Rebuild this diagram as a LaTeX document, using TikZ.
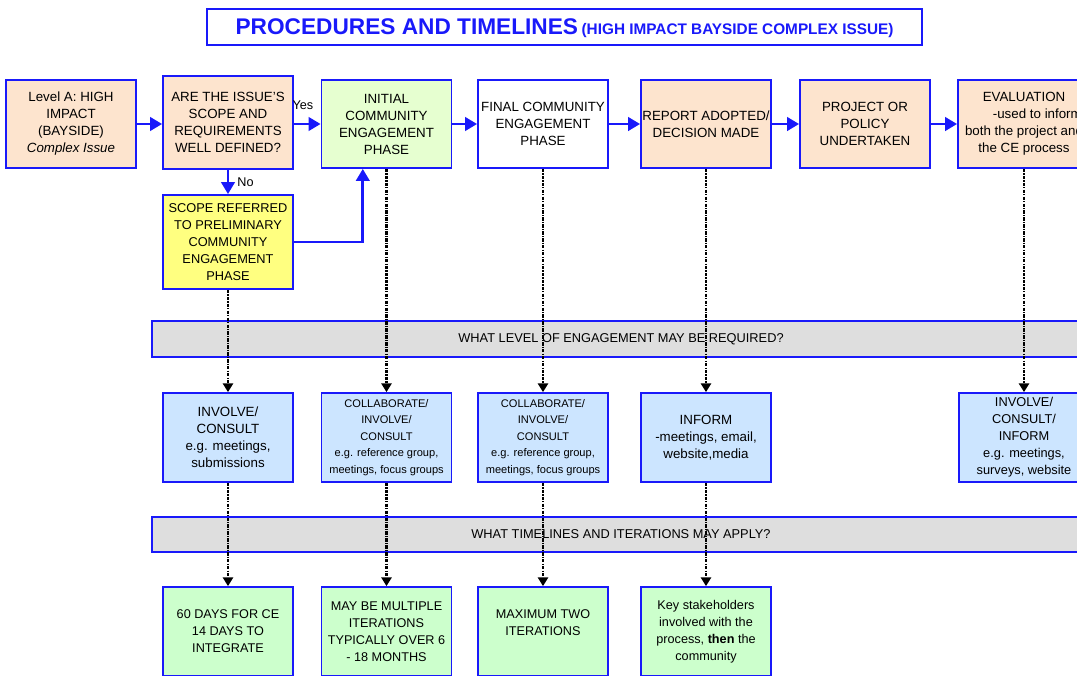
\documentclass[tikz,border=0pt]{standalone}
\usepackage{fontspec}
\setmainfont{Liberation Sans}
\usepackage{xcolor}
\usepackage{tikz}
\usetikzlibrary{arrows.meta,calc}
\definecolor{ceblue}{RGB}{25,25,250}
\definecolor{peach}{RGB}{253,228,206}
\definecolor{initgreen}{RGB}{230,255,208}
\definecolor{timegreen}{RGB}{204,255,204}
\definecolor{levelblue}{RGB}{204,229,255}
\definecolor{prelimyellow}{RGB}{255,255,128}
\definecolor{bannergrey}{RGB}{222,222,222}
\tikzset{
  stage/.style={rectangle, draw=ceblue, line width=1.3pt, fill=peach, minimum width=97.5pt, minimum height=66pt, inner sep=1pt, align=center, font=\fontsize{10}{12.75}\selectfont},
  level/.style={stage, fill=levelblue, minimum height=66.75pt},
  timing/.style={stage, fill=timegreen, minimum height=66.75pt, font=\fontsize{9.5}{12.75}\selectfont},
  banner/.style={rectangle, draw=ceblue, line width=1.3pt, fill=bannergrey, minimum width=703.5pt, minimum height=27pt, font=\fontsize{9.6}{11}\selectfont},
  flow/.style={-{Triangle[length=9pt,width=10pt]}, draw=ceblue, line width=2.2pt}, % main sequence of steps
  trace/.style={-{Triangle[length=6.5pt,width=7.5pt]}, draw=black, line width=1.6pt, dash pattern=on 2.5pt off 0.9pt on 0.9pt off 0.9pt} % step to its engagement / timeline
}

\begin{document}
\begin{tikzpicture}[x=0.75pt, y=-0.75pt, every node/.append style={font=\fontsize{9.5}{11}\selectfont}]
  \useasboundingbox (0,0) rectangle (1077,675);
  \clip (0,0) rectangle (1077,675);

  % heading
  \node[draw=ceblue, line width=1.3pt, minimum width=536.25pt, minimum height=27pt, inner sep=0pt, text depth=0pt, text=ceblue] (heading) at (564.5,27)
    {{\fontsize{17}{20}\selectfont\bfseries PROCEDURES AND TIMELINES} {\fontsize{11.5}{14}\selectfont\bfseries (HIGH IMPACT BAYSIDE COMPLEX ISSUE)}};

  % process steps
  \node[stage] (levela) at (71,124) {Level A: HIGH\\IMPACT\\(BAYSIDE)\\\textit{Complex Issue}};
  \node[stage, minimum height=69.75pt] (scopeq) at (228,122.5) {ARE THE ISSUE'S\\SCOPE AND\\REQUIREMENTS\\WELL DEFINED?};
  \node[stage, fill=initgreen] (initce) at (386.5,124) {INITIAL\\COMMUNITY\\ENGAGEMENT\\PHASE};
  \node[stage, fill=white] (finalce) at (543,124) {FINAL COMMUNITY\\ENGAGEMENT\\PHASE};
  \node[stage] (report) at (706,124) {REPORT ADOPTED/\\DECISION MADE};
  \node[stage] (project) at (865,124) {PROJECT OR\\POLICY\\UNDERTAKEN};
  \node[stage, minimum width=99pt] (evaluation) at (1024,124) {EVALUATION\\\hspace*{2em}-used to inform\\both the project and\\the CE process};
  \node[stage, fill=prelimyellow, minimum height=70.5pt, font=\fontsize{9.6}{12.75}\selectfont] (prelim) at (228,242) {SCOPE REFERRED\\TO PRELIMINARY\\COMMUNITY\\ENGAGEMENT\\PHASE};

  % question bars
  \node[banner] (engq) at (621,339) {WHAT LEVEL OF ENGAGEMENT MAY BE REQUIRED?};
  \node[banner, minimum height=26.25pt] (timeq) at (621,534.5) {WHAT TIMELINES AND ITERATIONS MAY APPLY?};

  % levels of engagement
  \node[level] (lvinvolve) at (228,437.5) {INVOLVE/\\CONSULT\\e.g. meetings,\\submissions};
  \node[level, font=\fontsize{8.3}{12.4}\selectfont] (lvinitial) at (386.5,437.5) {COLLABORATE/\\INVOLVE/\\CONSULT\\e.g. reference group,\\meetings, focus groups};
  \node[level, font=\fontsize{8.3}{12.4}\selectfont] (lvfinal) at (543,437.5) {COLLABORATE/\\INVOLVE/\\CONSULT\\e.g. reference group,\\meetings, focus groups};
  \node[level] (lvinform) at (706,437.5) {INFORM\\-meetings, email,\\website,media};
  \node[level, font=\fontsize{9.6}{12.75}\selectfont] (lveval) at (1024,437.5) {INVOLVE/\\CONSULT/\\INFORM\\e.g. meetings,\\surveys, website};

  % timelines and iterations
  \node[timing] (tminvolve) at (228,631.5) {60 DAYS FOR CE\\14 DAYS TO\\INTEGRATE};
  \node[timing] (tminitial) at (386.5,631.5) {MAY BE MULTIPLE\\ITERATIONS\\TYPICALLY OVER 6\\- 18 MONTHS};
  \node[timing] (tmfinal) at (543,631.5) {MAXIMUM TWO\\ITERATIONS\\~};
  \node[timing] (tmreport) at (706,631.5) {Key stakeholders\\involved with the\\process, \textbf{then} the\\community};

  % main flow
  \draw[flow] (levela.east) -- (levela.east -| scopeq.west);
  \draw[flow] (scopeq.east |- initce.west) -- node[pos=0.34, above=10pt, inner sep=0pt] {Yes} (initce.west);
  \draw[flow] (initce.east) -- (finalce.west);
  \draw[flow] (finalce.east) -- (report.west);
  \draw[flow] (report.east) -- (project.west);
  \draw[flow] (project.east) -- (evaluation.west);

  % scope not defined: preliminary phase first
  \draw[flow] (scopeq.south) -- node[right=6pt, inner sep=0pt] {No} (prelim.north);
  \draw[flow] (prelim.east) -| ($(initce.south west)!0.32!(initce.south east)$);

  % engagement needed at each step
  \draw[trace] (prelim.south) -- (lvinvolve.north);
  \draw[trace] (initce.south) -- (lvinitial.north);
  \draw[trace] (finalce.south) -- (lvfinal.north);
  \draw[trace] (report.south) -- (lvinform.north);
  \draw[trace] (evaluation.south) -- (lveval.north);

  % timelines for each level
  \draw[trace] (lvinvolve.south) -- (tminvolve.north);
  \draw[trace] (lvinitial.south) -- (tminitial.north);
  \draw[trace] (lvfinal.south) -- (tmfinal.north);
  \draw[trace] (lvinform.south) -- (tmreport.north);
\end{tikzpicture}
\end{document}
